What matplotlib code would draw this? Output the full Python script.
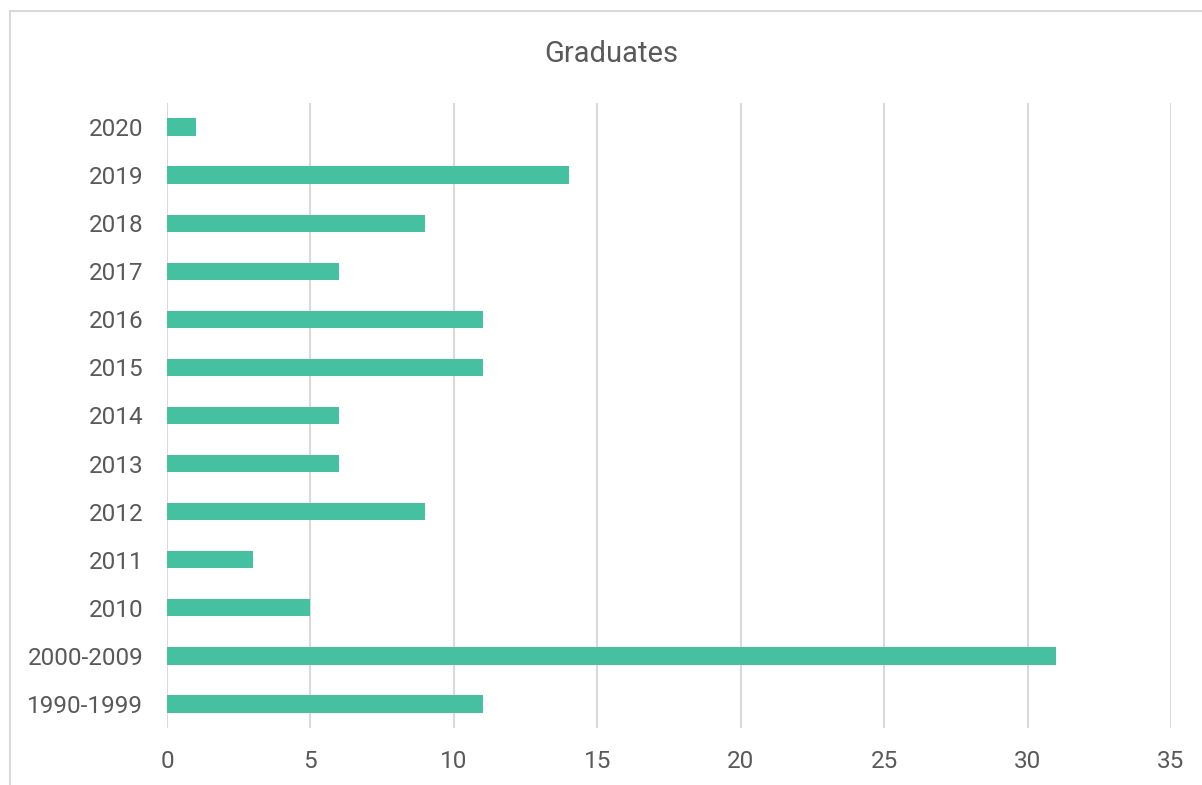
import matplotlib.pyplot as plt
from matplotlib.patches import Rectangle

categories = ["1990-1999", "2000-2009", "2010", "2011", "2012", "2013", "2014",
              "2015", "2016", "2017", "2018", "2019", "2020"]
graduates = [11, 31, 5, 3, 9, 6, 6, 11, 11, 6, 9, 14, 1]
x_ticks = [0, 5, 10, 15, 20, 25, 30, 35]

plt.rcParams["font.family"] = ["Roboto", "DejaVu Sans"]
text_color = "#595959"

fig = plt.figure(figsize=(12.02, 7.85), dpi=100)
fig.patches.append(Rectangle((10 / 1202, -0.1), 1.2, 1 - 11 / 785 + 0.1,
                             transform=fig.transFigure, fill=False,
                             edgecolor="#D9D9D9", linewidth=1.5))

ax = fig.add_axes([167 / 1202, 1 - 728 / 785, (1171 - 167) / 1202, (728 - 103) / 785])
ax.barh(range(len(categories)), graduates, height=0.36, color="#45C1A1", zorder=3)

ax.set_xlim(0, 35)
ax.set_ylim(-0.5, len(categories) - 0.5)
ax.set_xticks(x_ticks)
ax.set_yticks(range(len(categories)))
ax.set_yticklabels(categories)
ax.grid(axis="x", color="#D9D9D9", linewidth=1.5, zorder=0)
ax.tick_params(axis="both", length=0, labelsize=17.5, colors=text_color)
ax.tick_params(axis="x", pad=16)
ax.tick_params(axis="y", pad=17)
for s in ax.spines.values():
    s.set_visible(False)

fig.text(611 / 1202, 1 - 54 / 785, "Graduates", ha="center", va="center",
         fontsize=21, color=text_color)

fig.savefig("out.png", dpi=100)
